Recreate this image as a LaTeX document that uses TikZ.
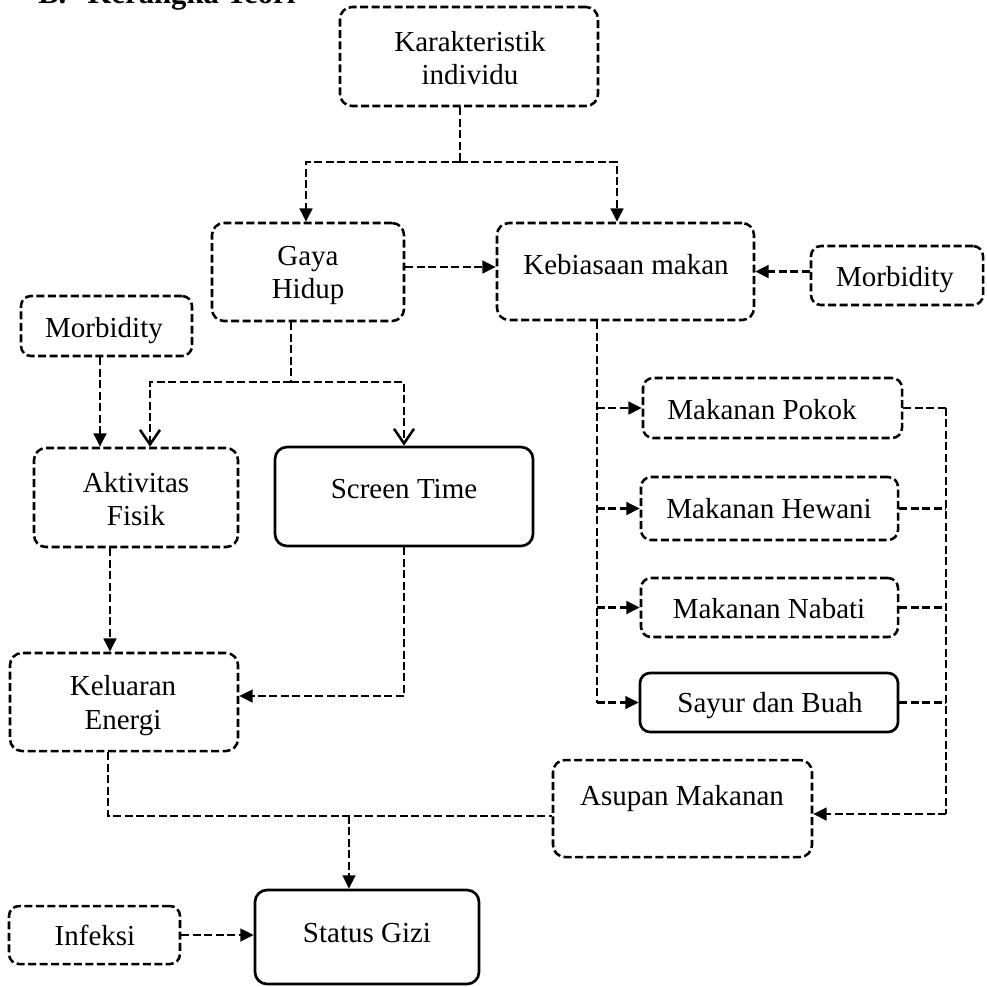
\documentclass[tikz,border=0pt]{standalone}
\usepackage{fontspec}
\setmainfont{Liberation Serif}
\usetikzlibrary{arrows.meta,fit,calc}
\begin{document}
\begin{tikzpicture}[x=0.75pt,y=-0.75pt,
  every node/.style={font=\fontsize{21.75pt}{24.75pt}\selectfont, inner sep=0pt},
  dbox/.style={draw, line width=1.9pt, dash pattern=on 6pt off 2.6pt, rounded corners=9pt},
  sbox/.style={draw, line width=2pt, rounded corners=9pt},
  lbl/.style={anchor=base},
  dl/.style={line width=1.9pt, dash pattern=on 6pt off 2.6pt},
  arr/.style={dl, -{Triangle[length=10pt,width=9.5pt]}},
  oarr/.style={dl, -{Straight Barb[length=11pt,width=15pt,line width=1.9pt]}}]
\useasboundingbox (0,0) rectangle (987,986);

% title (cut at the top)
\node[anchor=base west, font=\bfseries\fontsize{23pt}{27pt}\selectfont] (title) at (38,3) {B.\hspace{16pt}Kerangka Teori};

% boxes
\node[dbox, fit={(340,7) (598,106)}] (kar) {};
\node[dbox, fit={(212,223) (404,321)}] (gaya) {};
\node[dbox, fit={(497,223) (754,320)}] (keb) {};
\node[dbox, rounded corners=7.5pt, fit={(811,246) (983,305)}] (morR) {};
\node[dbox, rounded corners=7.5pt, fit={(21,296) (192,356)}] (morL) {};
\node[dbox, fit={(34,448) (238,547)}] (akt) {};
\node[sbox, fit={(275,447) (533,546)}] (scr) {};
\node[dbox, rounded corners=7.5pt, fit={(643,378) (902,438)}] (pok) {};
\node[dbox, rounded corners=7.5pt, fit={(641,477) (898,540)}] (hew) {};
\node[dbox, rounded corners=7.5pt, fit={(641,578) (898,637)}] (nab) {};
\node[sbox, rounded corners=7.5pt, fit={(640,673) (898,732)}] (say) {};
\node[dbox, fit={(10,653) (238,751)}] (kel) {};
\node[dbox, fit={(553,760) (812,857)}] (asu) {};
\node[dbox, rounded corners=7.5pt, fit={(9,906) (180,964)}] (inf) {};
\node[sbox, fit={(255,890) (479,984)}] (sta) {};

% labels
\node[lbl] (kar1) at (470,51) {Karakteristik};
\node[lbl] (kar2) at (470,84) {individu};
\node[lbl] (gaya1) at (308,265) {Gaya};
\node[lbl] (gaya2) at (308,298) {Hidup};
\node[lbl] (keb1) at (626,274) {Kebiasaan makan};
\node[lbl] (morR1) at (895,286) {Morbidity};
\node[lbl] (morL1) at (104,337) {Morbidity};
\node[lbl] (akt1) at (136,492) {Aktivitas};
\node[lbl] (akt2) at (136,525) {Fisik};
\node[lbl] (scr1) at (404,498) {Screen Time};
\node[lbl] (pok1) at (762,419) {Makanan Pokok};
\node[lbl] (hew1) at (769,518) {Makanan Hewani};
\node[lbl] (nab1) at (769,618) {Makanan Nabati};
\node[lbl] (say1) at (770,712) {Sayur dan Buah};
\node[lbl] (kel1) at (123,695) {Keluaran};
\node[lbl] (kel2) at (123,729) {Energi};
\node[lbl] (asu1) at (682,805) {Asupan Makanan};
\node[lbl] (inf1) at (95,945) {Infeksi};
\node[lbl] (sta1) at (367,942) {Status Gizi};

% connectors
\coordinate (c1) at (460,162);
\draw[dl] (kar.south -| c1) -- (c1);
\draw[arr] (c1) -| ($(gaya.north)+(-2,0)$);
\draw[arr] (c1) -| ($(keb.north)+(-8.5,0)$);
\draw[arr] ($(gaya.east)+(0,-5)$) -- ($(keb.west)+(0,-4.5)$);
\draw[arr] (morR.west |- keb.east) -- (keb.east);

\coordinate (g1) at (291,382);
\draw[dl] (gaya.south -| g1) -- (g1);
\draw[oarr] (g1) -| ($(akt.north)+(14,0)$);
\draw[oarr] (g1) -| (scr.north);

\coordinate (m1) at (100,0);
\draw[arr] (morL.south -| m1) -- (akt.north -| m1);
\coordinate (a1) at (110,0);
\draw[arr] (akt.south -| a1) -- (kel.north -| a1);
\coordinate (s1) at (404,696);
\draw[arr] (scr.south -| s1) -- (s1) -- (kel.east |- s1);

\coordinate (k2) at (108,816);
\coordinate (j2) at (349,816);
\draw[dl] (kel.south -| k2) -- (k2) -- (asu.west |- k2);
\draw[arr] (j2) -- (sta.north -| j2);
\draw[arr] (inf.east) -- (sta.west |- inf.east);

\coordinate (v1) at (597,0);
\draw[dl] (keb.south -| v1) -- (v1 |- say.west);
\foreach \b in {pok,hew,nab,say} \draw[arr] (v1 |- \b.west) -- (\b.west);

\coordinate (r1) at (946,814);
\foreach \b in {pok,hew,nab,say} \draw[dl] (\b.east) -- (\b.east -| r1);
\draw[dl] (r1 |- pok.east) -- (r1);
\draw[arr] (r1) -- (asu.east |- r1);
\end{tikzpicture}
\end{document}
